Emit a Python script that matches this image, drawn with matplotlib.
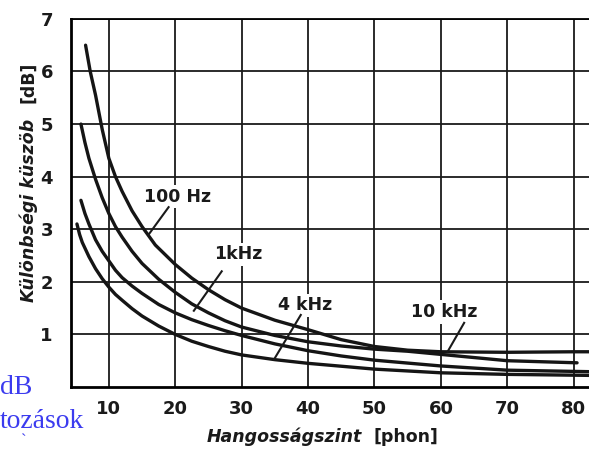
import matplotlib
matplotlib.use("Agg")
import matplotlib.pyplot as plt

# curves (loudness level in phon, JND in dB)
x_100hz = [6.5, 7.2, 8.0, 9.0, 10, 11, 12, 13.5, 15, 17, 20, 22.5, 25, 27.5, 30, 35, 40, 45, 50, 55, 60, 70, 80, 83]
y_100hz = [6.5, 6.0, 5.55, 4.9, 4.35, 4.0, 3.72, 3.35, 3.05, 2.7, 2.33, 2.07, 1.85, 1.66, 1.5, 1.27, 1.09, 0.9, 0.77, 0.7, 0.67, 0.66, 0.67, 0.67]

x_1khz = [5.8, 6.4, 7.0, 8.0, 9.0, 10, 11, 12, 13.5, 15, 17.5, 20, 22.5, 25, 27.5, 30, 35, 40, 45, 50, 55, 60, 70, 80.5]
y_1khz = [5.0, 4.65, 4.35, 3.95, 3.6, 3.3, 3.05, 2.85, 2.58, 2.35, 2.05, 1.8, 1.58, 1.41, 1.26, 1.14, 0.98, 0.86, 0.78, 0.72, 0.68, 0.62, 0.5, 0.46]

x_4khz = [5.8, 6.4, 7.0, 8.0, 9.0, 10, 11, 12, 13.5, 15, 17.5, 20, 22.5, 25, 27.5, 30, 35, 40, 45, 50, 60, 70, 83]
y_4khz = [3.55, 3.3, 3.1, 2.8, 2.58, 2.4, 2.22, 2.08, 1.92, 1.78, 1.57, 1.41, 1.28, 1.17, 1.07, 0.98, 0.82, 0.69, 0.59, 0.51, 0.4, 0.32, 0.29]

x_10khz = [5.2, 5.6, 6.0, 7.0, 8.0, 9.0, 10, 11, 12, 13.5, 15, 17.5, 20, 22.5, 25, 27.5, 30, 35, 40, 50, 60, 70, 83]
y_10khz = [3.1, 2.9, 2.75, 2.48, 2.25, 2.06, 1.9, 1.76, 1.65, 1.49, 1.35, 1.16, 1.0, 0.87, 0.77, 0.68, 0.61, 0.52, 0.45, 0.34, 0.27, 0.24, 0.22]

x_ticks = [10, 20, 30, 40, 50, 60, 70, 80]
y_ticks = [1, 2, 3, 4, 5, 6, 7]

# label text, text position, pointer end on the curve
labels = [
    ("100 Hz", (20.4, 3.62), (19.0, 3.42), (16.0, 2.9)),
    ("1kHz", (29.5, 2.52), (27.0, 2.2), (22.8, 1.45)),
    ("4 kHz", (39.6, 1.55), (38.9, 1.37), (34.9, 0.53)),
    ("10 kHz", (60.5, 1.43), (63.5, 1.22), (61.0, 0.67)),
]

fig = plt.figure(figsize=(5.89, 4.5), dpi=100)
ax = fig.add_axes([0.1205, 0.14, 0.8795, 0.818])

for xs, ys in [(x_100hz, y_100hz), (x_1khz, y_1khz), (x_4khz, y_4khz), (x_10khz, y_10khz)]:
    ax.plot(xs, ys, color="#151515", lw=2.4, solid_capstyle="round",
            solid_joinstyle="round", zorder=4)

ax.set_xlim(4.3, 82.3)
ax.set_ylim(0, 7)
ax.set_xticks(x_ticks)
ax.set_yticks(y_ticks)
ax.grid(True, color="#1a1a1a", lw=1.3)
ax.set_axisbelow(True)
ax.tick_params(length=0, labelsize=13, pad=9)
ax.tick_params(axis="y", pad=13)
for lab in ax.get_xticklabels() + ax.get_yticklabels():
    lab.set_fontweight("bold")
    lab.set_color("#1a1a1a")

ax.spines["right"].set_visible(False)
for s in ["left", "bottom"]:
    ax.spines[s].set_linewidth(2.0)
ax.spines["top"].set_linewidth(1.3)

for txt, tpos, p0, p1 in labels:
    ax.text(tpos[0], tpos[1], txt, ha="center", va="center", fontsize=12.5,
            fontweight="bold", color="#1a1a1a", zorder=3,
            bbox=dict(facecolor="white", edgecolor="none", pad=2))
    ax.plot([p0[0], p1[0]], [p0[1], p1[1]], color="#1a1a1a", lw=1.5, zorder=4)

# axis titles (italic part + upright unit)
fig.text(0.048, 0.533, "Különbségi küszöb", rotation=90, ha="center", va="center",
         fontsize=12.5, fontweight="bold", style="italic", color="#1a1a1a")
fig.text(0.048, 0.818, "[dB]", rotation=90, ha="center", va="center",
         fontsize=12.5, fontweight="bold", color="#1a1a1a")
fig.text(0.482, 0.029, "Hangosságszint", ha="center", va="center",
         fontsize=12.5, fontweight="bold", style="italic", color="#1a1a1a")
fig.text(0.689, 0.029, "[phon]", ha="center", va="center",
         fontsize=12.5, fontweight="bold", color="#1a1a1a")

# blue overlay text at bottom-left of the slide
blue = "#3b3bef"
fig.text(0.0, 0.124, "dB", ha="left", va="baseline", fontsize=20,
         family="Liberation Serif", color=blue)
fig.text(0.0, 0.049, "tozások", ha="left", va="baseline", fontsize=20,
         family="Liberation Serif", color=blue)
fig.text(0.036, 0.002, "`", ha="left", va="bottom", fontsize=12,
         family="Liberation Serif", color=blue)

fig.savefig("out.png", dpi=100)
